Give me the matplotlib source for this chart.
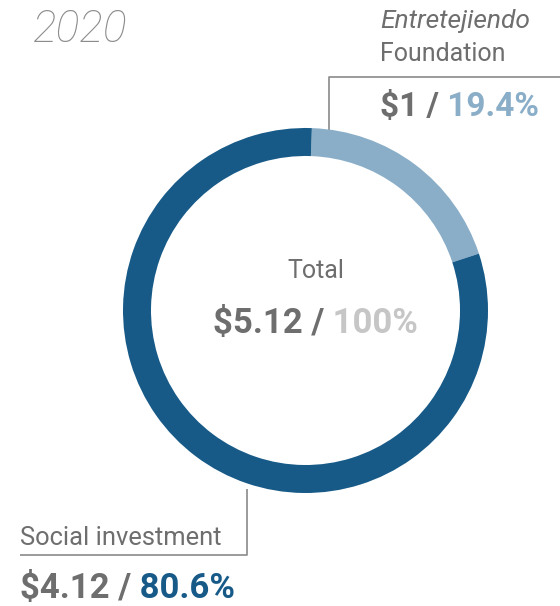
import matplotlib
matplotlib.use("Agg")
import matplotlib.pyplot as plt

# data
year = "2020"
segments = ["Entretejiendo Foundation", "Social investment"]
amounts = [1, 4.12]
shares = [19.4, 80.6]
total_amount = 5.12
total_share = 100

dark_blue = "#175a88"
light_blue = "#8aaec8"
grey_text = "#6e6e6e"
light_grey = "#c6c6c6"
fam = ["Roboto", "DejaVu Sans"]

W, H = 560, 606
fig = plt.figure(figsize=(W / 100, H / 100), dpi=100)
ax = fig.add_axes([0, 0, 1, 1])

# donut
cx, cy, R = 305.5, H - 310.5, 182.5
ax.pie(shares, colors=[light_blue, dark_blue], startangle=88, counterclock=False,
       center=(cx, cy), radius=R, wedgeprops=dict(width=28, linewidth=0))

ax.set_xlim(0, W)
ax.set_ylim(0, H)
ax.set_aspect("equal")
ax.axis("off")

# year
ax.text(33, H - 42, year, fontsize=32, style="italic", color="#8c8c8c", family=fam,
        fontweight="light", ha="left", va="baseline")

# foundation label
ax.text(380, H - 28, "Entretejiendo", fontsize=19, style="italic", color=grey_text,
        family=fam, ha="left", va="baseline")
ax.text(380, H - 61, "Foundation", fontsize=18, color=grey_text, family=fam,
        ha="left", va="baseline")


def two_tone(x, y, left, right, c_right, size):
    t1 = ax.text(x, y, left, fontsize=size, fontweight="bold", color=grey_text,
                 family=fam, ha="left", va="baseline")
    t2 = ax.annotate(right, xy=(1, 0), xycoords=t1, fontsize=size, fontweight="bold",
                     color=c_right, family=fam, ha="left", va="bottom")
    return t1, t2


f1, f2 = two_tone(380, H - 116, "$%g /" % amounts[0], " %.1f%%" % shares[0], light_blue, 24)
s1, s2 = two_tone(20, H - 598, "$%.2f /" % amounts[1], " %.1f%%" % shares[1], dark_blue, 25)

ax.text(cx + 10, H - 278, "Total", fontsize=18, color=grey_text, family=fam,
        ha="center", va="baseline")
c1, c2 = two_tone(0, H - 333, "$%.2f /" % total_amount, " %d%%" % total_share, light_grey, 25)

ax.text(20, H - 545, "Social investment", fontsize=18.4, color=grey_text, family=fam,
        ha="left", va="baseline")

# connector lines
ax.plot([329, 329, W], [H - 131, H - 77, H - 77], color="#8a8a8a", lw=1.2,
        solid_capstyle="butt", zorder=0)
ax.plot([247, 247, 20], [H - 489, H - 555, H - 555], color="#8a8a8a", lw=1.2,
        solid_capstyle="butt", zorder=0)

# center the total value under "Total"
fig.canvas.draw()
r = fig.canvas.get_renderer()
w = c1.get_window_extent(r).width + c2.get_window_extent(r).width
c1.set_x(cx + 10 - w / 2)

fig.savefig("out.png", dpi=100)
